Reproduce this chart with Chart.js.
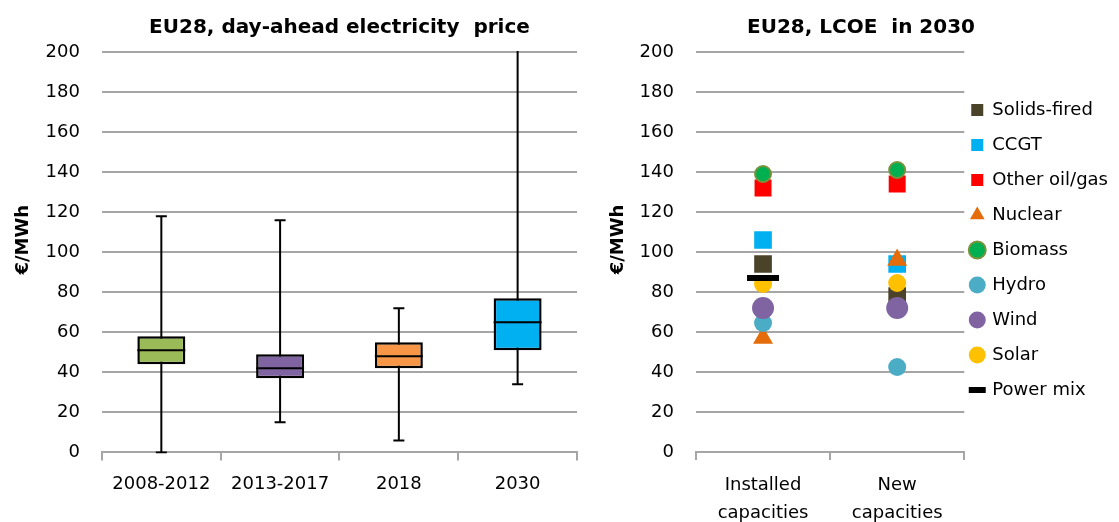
<!DOCTYPE html>
<html>
<head>
<meta charset="utf-8">
<script src="https://cdn.jsdelivr.net/npm/chart.js@4.4.0/dist/chart.umd.min.js"></script>
<style>
  html, body { margin: 0; padding: 0; background: #fff; overflow: hidden; }
  #left { position: absolute; left: 0; top: 0; }
  #right { position: absolute; left: 590px; top: 0; }
</style>
</head>
<body>
<canvas id="left" width="590" height="522"></canvas>
<canvas id="right" width="529" height="538"></canvas>
<script>
// day-ahead price distribution per period (EUR/MWh)
var periods = ['2008-2012', '2013-2017', '2018', '2030'];
var priceMin = [0, 15, 6, 34];
var priceQ1 = [44, 37, 42, 51];
var priceMedian = [51, 42, 48, 65];
var priceQ3 = [58, 49, 55, 77];
var priceMax = [118, 116, 72, 210];
var boxColors = ['#9BBB59', '#8064A2', '#F79646', '#00B0F0'];

// LCOE in 2030 per technology: [installed, new]
var capacityLabels = [['Installed', 'capacities'], ['New', 'capacities']];
var techNames = ['Solids-fired', 'CCGT', 'Other oil/gas', 'Nuclear', 'Biomass', 'Hydro', 'Wind', 'Solar', 'Power mix'];
var solidsFired = [94, 78];
var ccgt = [106, 94];
var otherOilGas = [132, 134];
var nuclear = [57, 96];
var biomass = [139, 141];
var hydro = [64.5, 42.5];
var wind = [72, 72];
var solar = [84, 84.5];
var powerMix = [87, null];

var FONT = '"DejaVu Sans", sans-serif';
var GRID = '#A6A6A6';
var tickFont = { family: FONT, size: 18 };
var titleFont = { family: FONT, size: 20, weight: 'bold' };
var axisTitleFont = { family: FONT, size: 18, weight: 'bold' };
var yTitle = '    €/MWh';

// whiskers and median lines for the box plot
var boxPlotLines = {
  id: 'boxPlotLines',
  beforeDatasetsDraw: function(chart) {
    var ctx = chart.ctx, y = chart.scales.y, area = chart.chartArea;
    var meta = chart.getDatasetMeta(0);
    ctx.save();
    ctx.beginPath();
    ctx.rect(area.left, area.top - 1, area.right - area.left, area.bottom - area.top + 2);
    ctx.clip();
    ctx.strokeStyle = '#000';
    ctx.lineWidth = 2;
    meta.data.forEach(function(bar, i) {
      var x = bar.x;
      ctx.beginPath();
      ctx.moveTo(x, y.getPixelForValue(priceMin[i]));
      ctx.lineTo(x, y.getPixelForValue(priceMax[i]));
      [priceMin[i], priceMax[i]].forEach(function(v) {
        var py = y.getPixelForValue(v);
        ctx.moveTo(x - 5.5, py);
        ctx.lineTo(x + 5.5, py);
      });
      ctx.stroke();
    });
    ctx.restore();
  },
  afterDatasetsDraw: function(chart) {
    var ctx = chart.ctx, y = chart.scales.y;
    var meta = chart.getDatasetMeta(0);
    ctx.save();
    ctx.strokeStyle = '#000';
    ctx.lineWidth = 2;
    meta.data.forEach(function(bar, i) {
      var py = y.getPixelForValue(priceMedian[i]);
      ctx.beginPath();
      ctx.moveTo(bar.x - bar.width / 2, py);
      ctx.lineTo(bar.x + bar.width / 2, py);
      ctx.stroke();
    });
    ctx.restore();
  }
};

new Chart(document.getElementById('left'), {
  type: 'bar',
  data: {
    labels: periods,
    datasets: [{
      data: periods.map(function(p, i) { return [priceQ1[i], priceQ3[i]]; }),
      backgroundColor: boxColors,
      borderColor: '#000',
      borderWidth: 2.5,
      borderSkipped: false,
      barPercentage: 0.404,
      categoryPercentage: 1
    }]
  },
  options: {
    responsive: false,
    animation: false,
    layout: { padding: { left: 9, right: 13, top: 0, bottom: 14 } },
    plugins: {
      legend: { display: false },
      tooltip: { enabled: false },
      title: {
        display: true,
        text: 'EU28, day-ahead electricity  price',
        fullSize: false,
        color: '#000',
        font: titleFont,
        padding: { top: 16, bottom: 12 }
      }
    },
    scales: {
      x: {
        grid: { drawOnChartArea: false, color: GRID, lineWidth: 2, tickLength: 8, offset: true },
        border: { color: GRID, width: 2 },
        ticks: { font: tickFont, color: '#000', padding: 13 }
      },
      y: {
        min: 0,
        max: 200,
        ticks: { stepSize: 20, font: tickFont, color: '#000', padding: 22 },
        grid: { color: GRID, lineWidth: 2, drawTicks: false },
        border: { display: false },
        title: { display: true, text: yTitle, color: '#000', font: axisTitleFont, padding: { top: 4, bottom: -11 } }
      }
    }
  },
  plugins: [boxPlotLines]
});

// LCOE scatter
var techSeries = [solidsFired, ccgt, otherOilGas, nuclear, biomass, hydro, wind, solar, powerMix];
var techStyles = [
  { style: 'rect', radius: 12.5, fill: '#4A4229', border: '#4A4229', bw: 0 },
  { style: 'rect', radius: 12.5, fill: '#00B0F0', border: '#00B0F0', bw: 0 },
  { style: 'rect', radius: 12, fill: '#FF0000', border: '#FF0000', bw: 0 },
  { style: 'triangle', radius: 11.5, fill: '#E46C0A', border: '#E46C0A', bw: 0 },
  { style: 'circle', radius: 8, fill: '#00B050', border: '#77933C', bw: 2 },
  { style: 'circle', radius: 9, fill: '#4BACC6', border: '#4BACC6', bw: 0 },
  { style: 'circle', radius: 11, fill: '#8064A2', border: '#8064A2', bw: 0 },
  { style: 'circle', radius: 9, fill: '#FFC000', border: '#FFC000', bw: 0 },
  { style: 'line', radius: 16, fill: '#000', border: '#000', bw: 6 }
];

new Chart(document.getElementById('right'), {
  type: 'line',
  data: {
    labels: capacityLabels,
    datasets: techNames.map(function(name, i) {
      var s = techStyles[i];
      return {
        label: name,
        data: techSeries[i],
        showLine: false,
        order: techNames.length - i,
        pointStyle: s.style,
        pointRadius: s.radius,
        pointHoverRadius: s.radius,
        pointBackgroundColor: s.fill,
        pointBorderColor: s.border,
        pointBorderWidth: s.bw,
        backgroundColor: s.fill,
        borderColor: s.border
      };
    })
  },
  options: {
    responsive: false,
    animation: false,
    layout: { padding: { left: 14, right: 1, top: 0, bottom: 0 } },
    plugins: {
      tooltip: { enabled: false },
      title: {
        display: true,
        text: 'EU28, LCOE  in 2030',
        color: '#000',
        font: titleFont,
        padding: { top: 16, bottom: 12 }
      },
      legend: {
        position: 'right',
        align: 'start',
        maxWidth: 220,
        title: { display: true, text: ' ', font: { family: FONT, size: 12 }, padding: { top: 79.6, bottom: 0 } },
        labels: {
          usePointStyle: true,
          boxWidth: 12,
          boxHeight: 12,
          padding: 7,
          color: '#000',
          font: { family: FONT, size: 18, lineHeight: 28 / 18 },
          generateLabels: function(chart) {
            var items = Chart.defaults.plugins.legend.labels.generateLabels(chart);
            items.forEach(function(it) { it.text = [it.text]; });
            return items;
          },
          sort: function(a, b) { return a.datasetIndex - b.datasetIndex; }
        }
      }
    },
    scales: {
      x: {
        offset: true,
        grid: { drawOnChartArea: false, color: GRID, lineWidth: 2, tickLength: 8, offset: true },
        border: { color: GRID, width: 2 },
        ticks: { font: { family: FONT, size: 18, lineHeight: 28 / 18 }, color: '#000', padding: 11 }
      },
      y: {
        min: 0,
        max: 200,
        ticks: { stepSize: 20, font: tickFont, color: '#000', padding: 22 },
        grid: { color: GRID, lineWidth: 2, drawTicks: false },
        border: { display: false },
        title: { display: true, text: yTitle, color: '#000', font: axisTitleFont, padding: { top: 4, bottom: -12 } }
      }
    }
  }
});
</script>
</body>
</html>
